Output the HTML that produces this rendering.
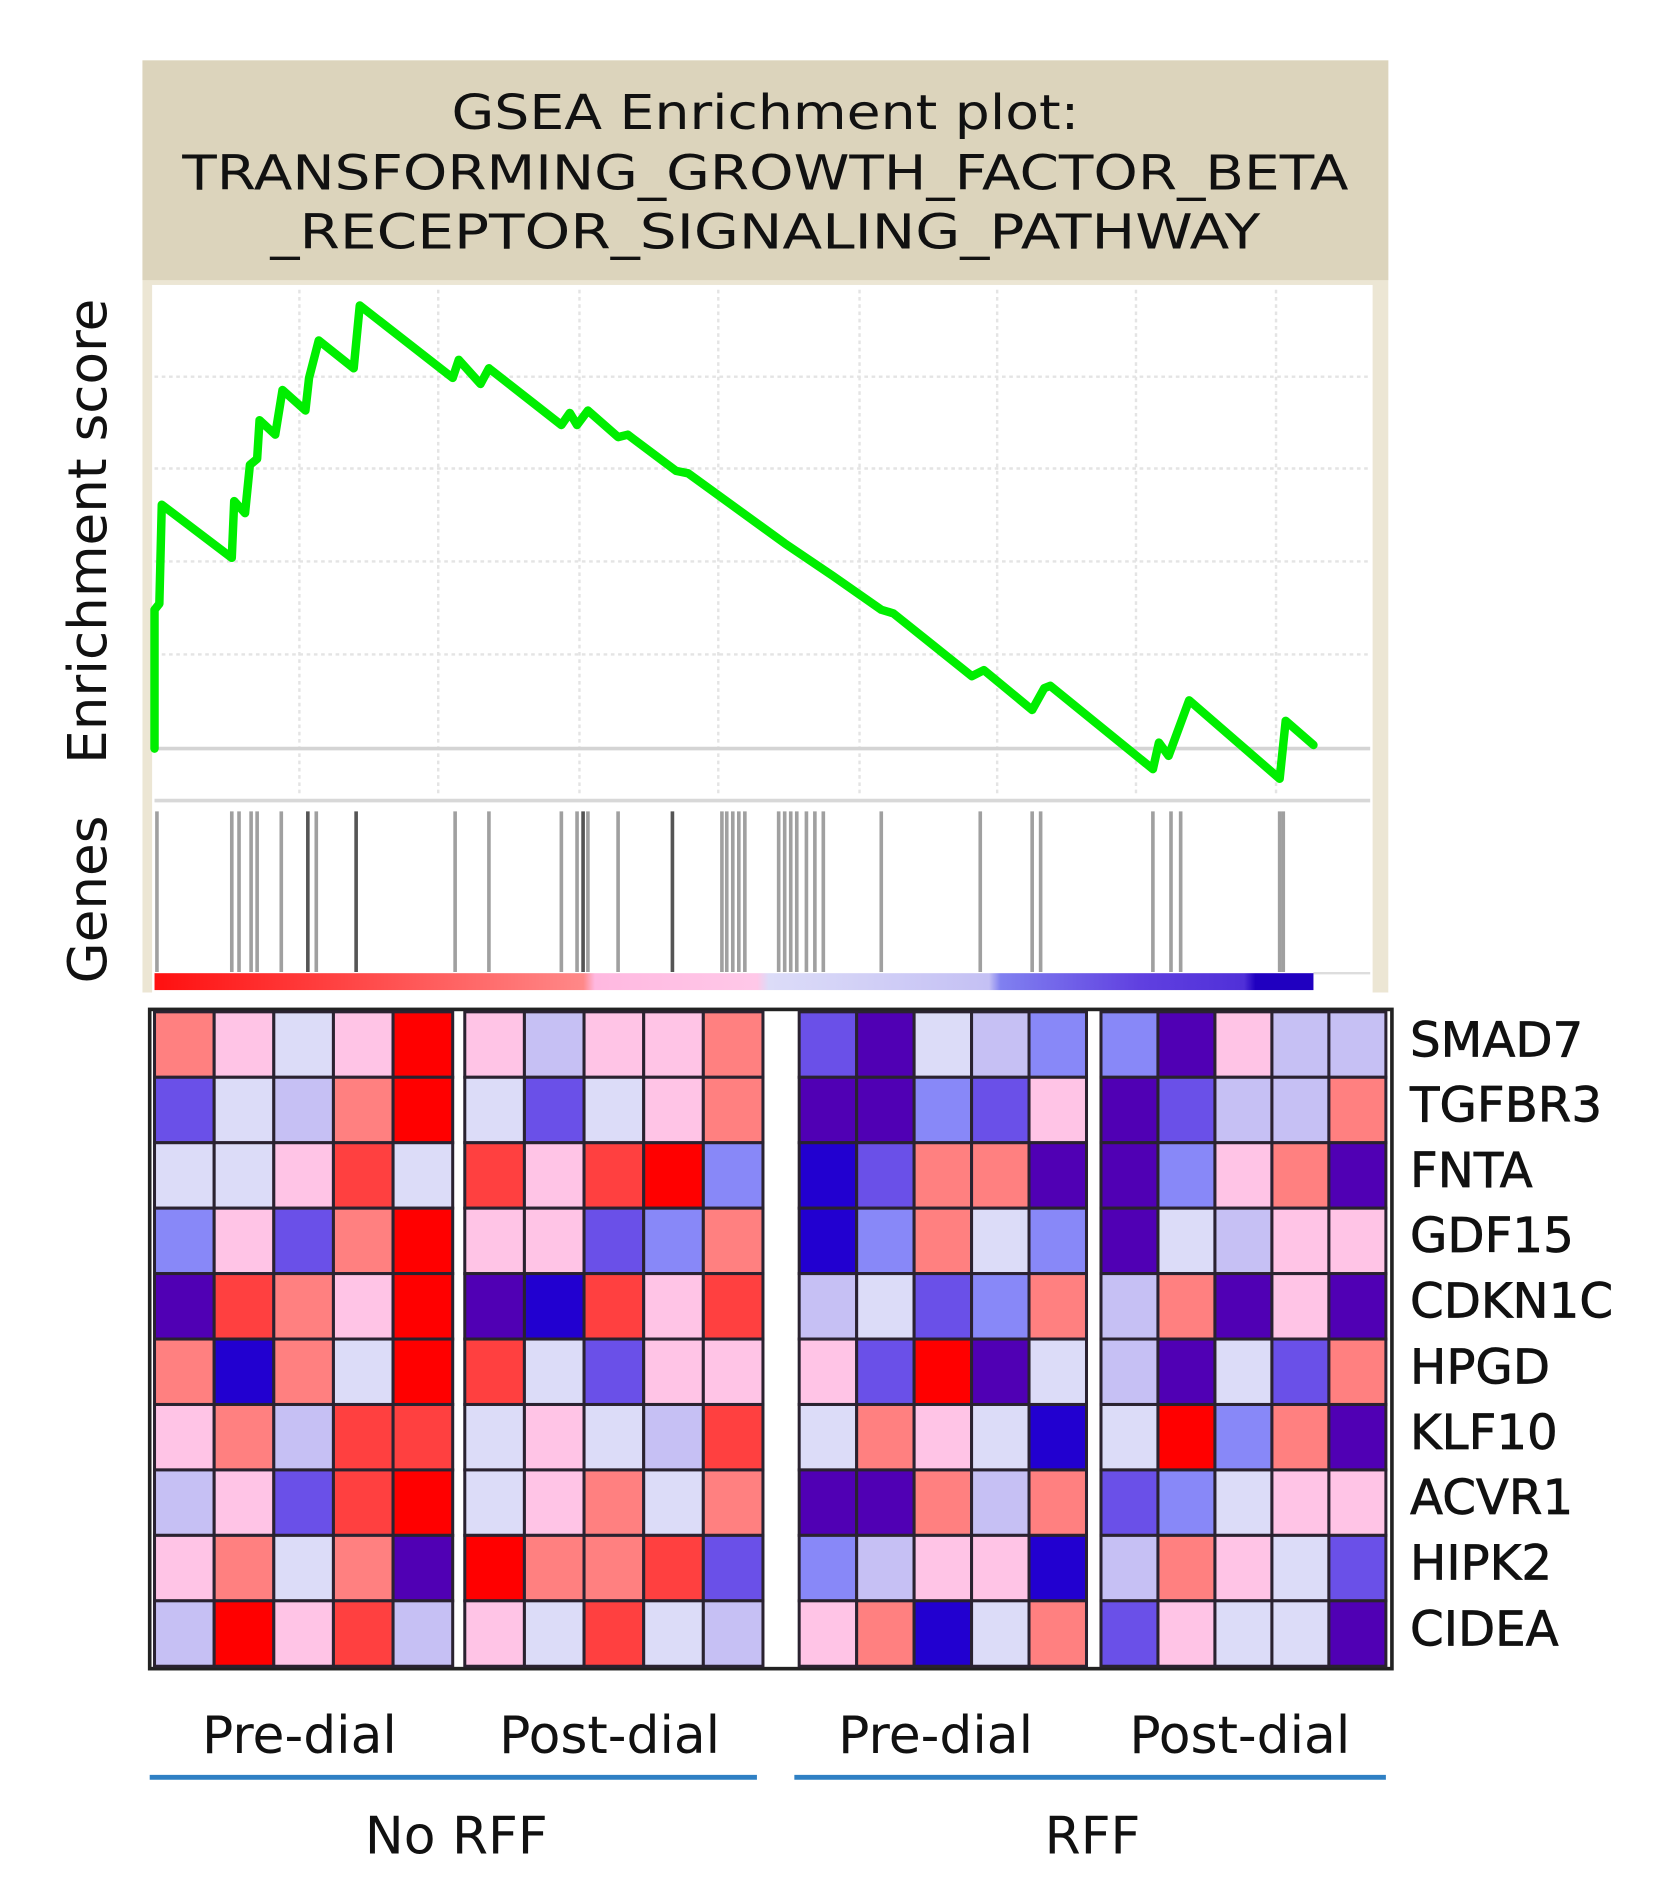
<!DOCTYPE html>
<html><head><meta charset="utf-8"><style>
html,body{margin:0;padding:0;background:#fff;}
svg{display:block;}
text{font-family:"DejaVu Sans","Liberation Sans",sans-serif;fill:#111;}
</style></head><body>
<svg id="s" width="1672" height="1886" viewBox="0 0 1385 1562" preserveAspectRatio="none" xmlns="http://www.w3.org/2000/svg">
<defs>
<linearGradient id="cb" x1="0" x2="1" y1="0" y2="0">
<stop offset="0" stop-color="#ff1010"/><stop offset="0.2" stop-color="#ff5050"/>
<stop offset="0.37" stop-color="#ff8888"/><stop offset="0.38" stop-color="#ffb8e0"/>
<stop offset="0.52" stop-color="#ffc8e8"/><stop offset="0.53" stop-color="#dcdcf8"/>
<stop offset="0.72" stop-color="#c4c0f4"/><stop offset="0.73" stop-color="#8080f0"/>
<stop offset="0.85" stop-color="#6040e0"/><stop offset="0.94" stop-color="#5030d8"/>
<stop offset="0.95" stop-color="#2000c0"/><stop offset="1" stop-color="#2000c0"/>
</linearGradient>
</defs>
<rect x="118" y="50" width="1032" height="772" fill="#ece6d4"/>
<rect x="118" y="50" width="1032" height="182" fill="#dcd4bc"/>
<rect x="126" y="236" width="1011" height="586" fill="#fff"/>
<text x="634" y="107" font-size="40" text-anchor="middle" textLength="520" lengthAdjust="spacingAndGlyphs">GSEA Enrichment plot:</text>
<text x="634" y="157" font-size="40" text-anchor="middle" textLength="966" lengthAdjust="spacingAndGlyphs">TRANSFORMING_GROWTH_FACTOR_BETA</text>
<text x="634" y="206" font-size="40" text-anchor="middle" textLength="820" lengthAdjust="spacingAndGlyphs">_RECEPTOR_SIGNALING_PATHWAY</text>
<g stroke="#e4e4e4" stroke-width="2" stroke-dasharray="3,3">
<line x1="248" y1="240" x2="248" y2="660"/><line x1="363" y1="240" x2="363" y2="660"/>
<line x1="480" y1="240" x2="480" y2="660"/><line x1="595" y1="240" x2="595" y2="660"/>
<line x1="712" y1="240" x2="712" y2="660"/><line x1="826" y1="240" x2="826" y2="660"/>
<line x1="941" y1="240" x2="941" y2="660"/><line x1="1057" y1="240" x2="1057" y2="660"/>
<line x1="128" y1="312" x2="1135" y2="312"/><line x1="128" y1="388" x2="1135" y2="388"/>
<line x1="128" y1="465" x2="1135" y2="465"/><line x1="128" y1="542" x2="1135" y2="542"/>
</g>
<line x1="128" y1="620" x2="1135" y2="620" stroke="#d4d4d4" stroke-width="3"/>
<line x1="128" y1="663" x2="1135" y2="663" stroke="#d8d8d8" stroke-width="3"/>
<line x1="1088" y1="806" x2="1135" y2="806" stroke="#dddddd" stroke-width="2"/>
<g id="ticks" stroke-width="3"></g>
<rect x="128" y="806" width="960" height="14" fill="url(#cb)"/>
<polyline fill="none" stroke="#00ee00" stroke-width="7" stroke-linejoin="round" stroke-linecap="round" points="128,620 128,505 132,500 134,418 192,462 194,415 203,425 207,385 213,380 215,348 228,360 234,323 253,340 256,313 264,282 293,305 298,253 375,313 380,298 398,318 405,305 465,352 472,342 478,352 487,340 512,362 520,360 560,390 570,392 650,450 690,477 730,505 740,508 805,560 815,555 855,588 865,570 870,568 955,637 960,615 968,626 985,580 1060,645 1065,597 1088,617"/>
<text transform="translate(88,440) rotate(-90)" font-size="44" text-anchor="middle" font-family="Liberation Sans">Enrichment  score</text>
<text transform="translate(88,745) rotate(-90)" font-size="44" text-anchor="middle" font-family="Liberation Sans">Genes</text>
<rect x="124" y="836" width="1029" height="546" fill="#fff" stroke="#222" stroke-width="3"/>
<g id="hm"></g>
<g font-size="40" font-family="DejaVu Sans" stroke="#111" stroke-width="0.6">
<text x="1168" y="875">SMAD7</text><text x="1168" y="929">TGFBR3</text>
<text x="1168" y="983">FNTA</text><text x="1168" y="1037">GDF15</text>
<text x="1168" y="1091">CDKN1C</text><text x="1168" y="1146">HPGD</text>
<text x="1168" y="1200">KLF10</text><text x="1168" y="1254">ACVR1</text>
<text x="1168" y="1308">HIPK2</text><text x="1168" y="1363">CIDEA</text>
</g>
<g font-size="43" text-anchor="middle">
<text x="248" y="1452">Pre-dial</text><text x="505" y="1452">Post-dial</text>
<text x="775" y="1452">Pre-dial</text><text x="1027" y="1452">Post-dial</text>
<text x="378" y="1535">No  RFF</text><text x="905" y="1535">RFF</text>
</g>
<line x1="124" y1="1472" x2="627" y2="1472" stroke="#2f80c4" stroke-width="4"/>
<line x1="658" y1="1472" x2="1148" y2="1472" stroke="#2f80c4" stroke-width="4"/>
</svg>
<script>
var NS="http://www.w3.org/2000/svg";
var tk=document.getElementById("ticks");
var xs=[130,192,198,208,213,233,255,262,295,377,405,465,478,483,487,512,557,598,602,607,612,617,645,650,655,660,668,675,682,730,812,855,862,955,970,978,1060,1063];
var dark=[255,295,483,557,677];
xs.forEach(function(x){var l=document.createElementNS(NS,"line");l.setAttribute("x1",x);l.setAttribute("x2",x);l.setAttribute("y1",672);l.setAttribute("y2",805);l.setAttribute("stroke",dark.indexOf(x)>=0?"#555":"#a0a0a0");tk.appendChild(l);});
var C={R:"#ff0000",r:"#ff4040",m:"#ff8080",p:"#ffc4e6",l:"#dcdcf8",v:"#c6c0f4",b:"#8888f8",B:"#6a50e8",D:"#5000b4",K:"#2200d0"};
var rows=["mplpRpvppmBDlvbbDpvv","BlvmRlBlpmDDbBpDBvvm","llprlrprRbKBmmDDbpmD","bpBmRppBbmKbmlbDlvpp","DrmpRDKrprvlBbmvmDpD","mKmlRrlBpppBRDlvDlBm","pmvrrlplvrlmplKlRbmD","vpBrRlpmlmDDmvmBblpp","pmlmDRmmrBbvppKvmplB","vRprvplrlvpmKlmBpllD"];
var gx=[[128,375],[385,632],[662,900],[912,1148]];
var hm=document.getElementById("hm");var rh=542/10;
rows.forEach(function(r,i){for(var j=0;j<20;j++){var g=gx[Math.floor(j/5)];var w=(g[1]-g[0])/5;var k=j%5;var e=document.createElementNS(NS,"rect");e.setAttribute("x",g[0]+k*w);e.setAttribute("y",838+i*rh);e.setAttribute("width",w);e.setAttribute("height",rh);e.setAttribute("fill",C[r[j]]||"#fff");e.setAttribute("stroke","#2a2230");e.setAttribute("stroke-width","2.5");hm.appendChild(e);}});
</script>
</body></html>
